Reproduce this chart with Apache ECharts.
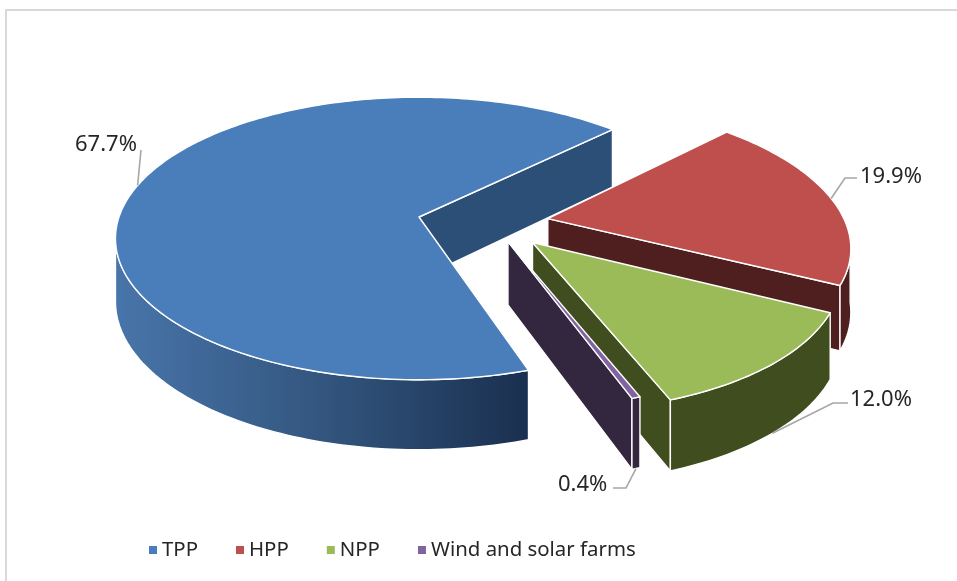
<!DOCTYPE html>
<html>
<head>
<meta charset="utf-8">
<style>html,body{margin:0;padding:0;background:#fff}#chart{width:957px;height:581px}</style>
<script src="https://cdn.jsdelivr.net/npm/echarts@6/dist/echarts.min.js"></script>
</head>
<body>
<div id="chart"></div>
<script>
// Electricity generation shares by plant type
var names = ['TPP', 'HPP', 'NPP', 'Wind and solar farms'];
var shares = [67.7, 19.9, 12.0, 0.4];

var topColors = ['#4a7ebb', '#be4f4c', '#9bbb59', '#8064a2'];
var cutColors = ['#2c4f78', '#4f1e1f', '#3f4d1f', '#33263f'];
var rimColors = ['#33567f', '#4f1e1f', '#3f4d1f', '#33263f'];

// Tilted-disc projection: unit-disc ground coordinates to pixels
var view = { x: 419, y: 217, radius: 300, tilt: 138, depth: 0.152, thickness: 62, thicknessFalloff: 0.74 };
var firstSliceAngle = 161.8;           // clockwise from twelve o'clock

// Exploded position and radius of each slice, in disc units
var sliceOffsets = [[0, 0], [0.4286, -0.0117], [0.368, -0.18], [0.2887, -0.174]];
var sliceRadii = [1, 0.985, 0.98, 0.97];

// Rim angles between the disc's two silhouette points, measured counter-clockwise from east
var nearRimStart = -8.5;
var nearRimEnd = -171.5;

// Leader line elbow and label position, in pixels
var labelLayouts = [
  { onWall: false, elbow: [141, 150], text: [75, 145] },
  { onWall: false, elbow: [845, 178], end: [857, 178], text: [860, 177] },
  { onWall: true, elbow: [833, 403], end: [848, 403], text: [850, 400] },
  { onWall: true, elbow: [626, 488], end: [613, 488], text: [558, 485] }
];

function project(u, v, lift) {
  var w = 1 + view.depth * v;
  return [
    view.x + view.radius * u / w,
    view.y - view.tilt * v / w + (lift ? view.thickness / Math.pow(w, view.thicknessFalloff) : 0)
  ];
}

// Start and end angle of each slice, walking clockwise
var total = shares.reduce(function (a, b) { return a + b; }, 0);
var sliceAngles = [];
shares.reduce(function (acc, value) {
  var sweep = value / total * 360;
  sliceAngles.push([90 - acc, 90 - acc - sweep]);
  return acc + sweep;
}, firstSliceAngle);

function groundPoint(i, deg, lift) {
  var a = deg * Math.PI / 180;
  var r = sliceRadii[i];
  return project(sliceOffsets[i][0] + r * Math.cos(a), sliceOffsets[i][1] + r * Math.sin(a), lift);
}
function apex(i, lift) {
  return project(sliceOffsets[i][0], sliceOffsets[i][1], lift);
}
function arc(i, from, to, lift) {
  var pts = [], n = Math.max(2, Math.ceil(Math.abs(from - to) / 1.2));
  for (var k = 0; k <= n; k++) pts.push(groundPoint(i, from + (to - from) * k / n, lift));
  return pts;
}

// The part of a slice's rim that faces the viewer, or null
function nearArc(from, to) {
  for (var k = -2; k <= 1; k++) {
    var a = Math.min(from, nearRimStart - 360 * k);
    var b = Math.max(to, nearRimEnd - 360 * k);
    if (a > b) return [a, b];
  }
  return null;
}

function sliceShapes(i) {
  var from = sliceAngles[i][0], to = sliceAngles[i][1];
  var children = [];
  var edge = { stroke: '#fff', lineWidth: 1.4, lineJoin: 'round' };

  // The clockwise cut face of every slice is turned towards the viewer
  children.push({
    type: 'polygon',
    shape: { points: [apex(i, false), groundPoint(i, to, false), groundPoint(i, to, true), apex(i, true)] },
    style: Object.assign({ fill: cutColors[i] }, edge)
  });

  var near = nearArc(from, to);
  if (near) {
    var rimFill = rimColors[i];
    if (i === 0) {
      rimFill = new echarts.graphic.LinearGradient(115, 0, 525, 0, [
        { offset: 0, color: '#4875aa' },
        { offset: 0.5, color: '#33567f' },
        { offset: 1, color: '#1a3050' }
      ], true);
    }
    children.push({
      type: 'polygon',
      shape: { points: arc(i, near[0], near[1], false).concat(arc(i, near[1], near[0], true)) },
      style: Object.assign({ fill: rimFill }, edge)
    });
  }

  // Top face
  children.push({
    type: 'polygon',
    shape: { points: [apex(i, false)].concat(arc(i, from, to, false)) },
    style: Object.assign({ fill: topColors[i] }, edge)
  });

  // Leader line and value label
  var layout = labelLayouts[i];
  var anchor = groundPoint(i, (from + to) / 2, layout.onWall);
  var line = [anchor, layout.elbow];
  if (layout.end) line.push(layout.end);
  children.push({
    type: 'polyline',
    shape: { points: line },
    style: { stroke: '#a6a6a6', lineWidth: 1.6, fill: null }
  });
  children.push({
    type: 'text',
    style: {
      x: layout.text[0], y: layout.text[1],
      text: shares[i].toFixed(1) + '%',
      fill: '#262626',
      font: '22px "Noto Sans"',
      textAlign: 'left', textVerticalAlign: 'middle'
    }
  });
  return { type: 'group', children: children };
}

var chart = echarts.init(document.getElementById('chart'));
chart.setOption({
  animation: false,
  backgroundColor: '#fff',
  legend: {
    data: names,
    left: 144,
    top: 535,
    icon: 'rect',
    itemWidth: 8,
    itemHeight: 8,
    itemGap: 38,
    textStyle: { fontFamily: 'Noto Sans', fontSize: 20.4, color: '#262626' }
  },
  graphic: [{
    type: 'polyline',
    shape: { points: [[6, 581], [6, 10], [957, 10]] },
    style: { stroke: '#d9d9d9', lineWidth: 2, fill: null },
    silent: true
  }],
  series: names.map(function (name, i) {
    return {
      type: 'custom',
      name: name,
      coordinateSystem: 'none',
      itemStyle: { color: topColors[i] },
      data: [shares[i]],
      renderItem: function () { return sliceShapes(i); }
    };
  })
});
</script>
</body>
</html>
